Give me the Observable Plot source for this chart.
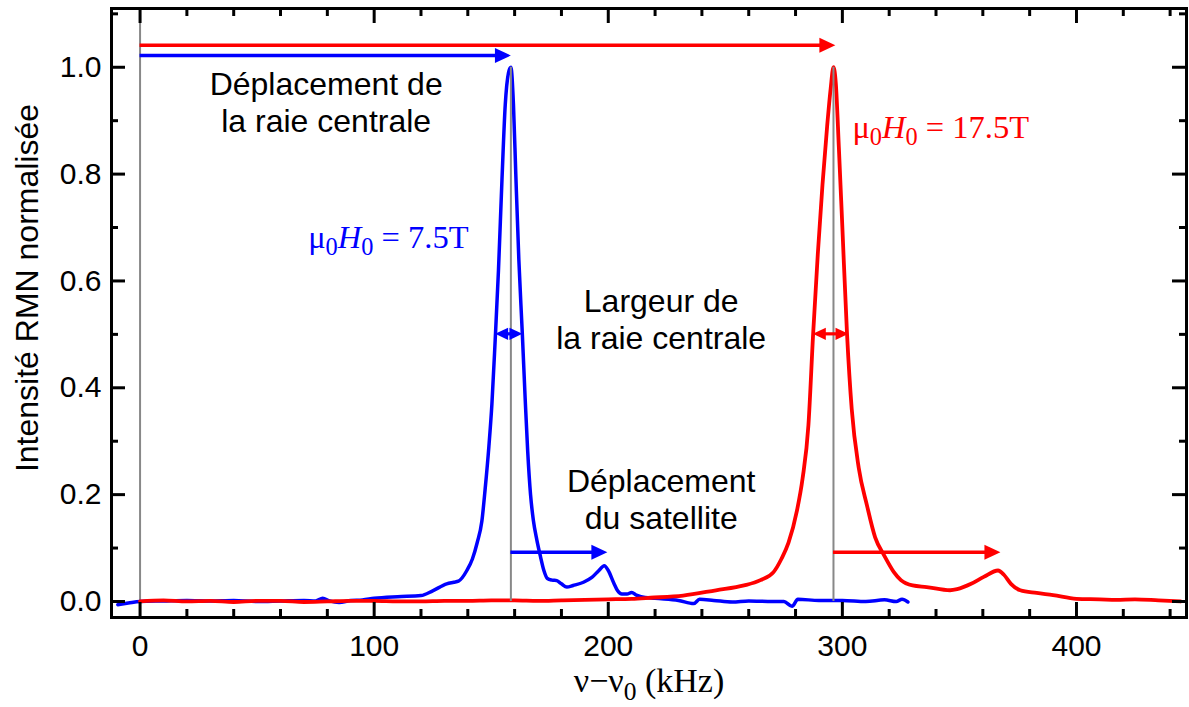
<!DOCTYPE html>
<html><head><meta charset="utf-8">
<script src="https://cdn.jsdelivr.net/npm/d3@7"></script>
<script src="https://cdn.jsdelivr.net/npm/@observablehq/plot@0.6"></script>
<style>body{margin:0;background:#fff}</style>
</head><body><div id="chart"></div>
<script>
// ---- data ----
const blueX = [-9.5,-5,0,10,20,30,40,50,60,70,75,78,81,85,90,95,100,110,120,125,131,134,136,139.6,142,144,146,147.4,149,150.3,151.7,153.1,154.6,156,157.4,158.4,159.5,160.5,161.8,163.3,164.5,165.6,166.8,168,169.5,171,172.5,174,176,178,180,182.3,185,189.4,193,196,198.3,200,202.3,204,205.8,208,210,212,214,220,230,236.5,239,245,253,260,270,275,278.5,281,290,300,310,318,323,325.5,328];
const blueY = [-0.006,-0.003,0,0.001,0.002,0.001,0.002,0.0,0.001,0.002,0.001,0.006,0.001,-0.002,0.002,0.003,0.006,0.009,0.011,0.02,0.033,0.036,0.038,0.058,0.08,0.11,0.15,0.21,0.29,0.37,0.49,0.62,0.79,0.93,0.99,1.0,0.93,0.8,0.64,0.5,0.38,0.28,0.2,0.152,0.115,0.085,0.058,0.043,0.04,0.039,0.033,0.027,0.03,0.036,0.045,0.058,0.067,0.058,0.035,0.02,0.014,0.014,0.017,0.012,0.009,0.006,0.002,-0.004,0.004,0.002,-0.001,0.001,0.0,0.0,-0.009,0.004,0.002,0.002,0.0,0.003,0.0,0.004,-0.001];
const redX = [0,10,20,30,40,50,60,70,80,90,100,110,120,130,140,150,160,170,180,190,200,210,218,232,246,258,265,270.6,274,277,280.6,283,285.5,287.5,289.5,291.5,293.5,295,296.2,297.2,298.5,300,302,304,307,310.5,314,318,322,325,330,336,346,349,355,360.4,366.5,369,372,376,383,390,400,410,417,425,435,444.5];
const redY = [0,0.002,0.0,0.001,-0.001,0.001,0.001,-0.001,0.0,0.001,0.001,0.0,0.0,0.001,0.001,0.002,0.002,0.001,0.002,0.003,0.004,0.005,0.007,0.011,0.021,0.03,0.04,0.055,0.08,0.11,0.17,0.23,0.33,0.5,0.65,0.78,0.89,0.96,1.0,0.97,0.85,0.7,0.5,0.36,0.25,0.18,0.12,0.085,0.055,0.04,0.03,0.027,0.021,0.023,0.033,0.046,0.058,0.05,0.033,0.021,0.016,0.012,0.005,0.004,0.003,0.004,0.002,0.0];

const xMajorTicks = [0,100,200,300,400];
const xMinorTicks = [20,40,60,80,120,140,160,180,220,240,260,280,320,340,360,380,420,440];
const yMajorTicks = [0,0.2,0.4,0.6,0.8,1.0];
const yMinorTicks = [0.1,0.3,0.5,0.7,0.9,1.1];

const peakPositions = [158.4, 296.2];
const seriesColors = ["#0000ff", "#ff0000"];
// arrows: start, end, level
const shiftStart = [0, 0], shiftEnd = [158.4, 297], shiftLevel = [1.022, 1.041];
const satStart = [158.4, 296.2], satEnd = [199.6, 367.5], satLevel = [0.092, 0.092];
const widthLeft = [151.7, 287.4], widthRight = [163.3, 302.6], widthLevel = [0.501, 0.501];

const fieldLabels = ["μ0H0 = 7.5T", "μ0H0 = 17.5T"];
const fieldLabelX = [71.8, 304.3], fieldLabelY = [0.682, 0.888];
const noteTexts = ["Déplacement de\nla raie centrale", "Largeur de\nla raie centrale", "Déplacement\ndu satellite"];
const noteX = [79.5, 222.6, 222.6], noteY = [0.935, 0.529, 0.192];
const xLabel = "ν−ν0 (kHz)";
const yLabel = "Intensité RMN normalisée";

// ---- tables ----
const blue = blueX.map((x, i) => ({x, y: blueY[i]}));
const red = redX.map((x, i) => ({x, y: redY[i]}));
const peaks = peakPositions.map(x => ({x, y1: 0, y2: 1}));
const mk = (a, b, c) => a.map((v, i) => ({x1: v, x2: b[i], y: c[i], c: seriesColors[i]}));
const shifts = mk(shiftStart, shiftEnd, shiftLevel);
const sats = mk(satStart, satEnd, satLevel);
const widths = mk(widthLeft, widthRight, widthLevel);
const fields = fieldLabels.map((t, i) => ({t, x: fieldLabelX[i], y: fieldLabelY[i], c: seriesColors[i]}));
const notes = noteTexts.map((t, i) => ({t, x: noteX[i], y: noteY[i]}));

// arrowhead symbol, tip at origin, pointing right
const head = {draw(ctx, size) { const L = Math.sqrt(size); ctx.moveTo(0, 0); ctx.lineTo(-L, -0.47 * L); ctx.lineTo(-L, 0.47 * L); ctx.closePath(); }};

const H = 707, W = 1189, mt = 8, mb = 90, ml = 111, mr = 3;
const innerH = H - mt - mb, innerW = W - ml - mr;
const sans = "'Liberation Sans', Arial, Helvetica, sans-serif";
const serif = "'Liberation Serif', 'Times New Roman', serif";

const plot = Plot.plot({
  width: W, height: H, marginTop: mt, marginBottom: mb, marginLeft: ml, marginRight: mr,
  x: {domain: [-12.2, 447]},
  y: {domain: [-0.03, 1.11]},
  style: {fontFamily: sans, background: "#fff", overflow: "visible"},
  marks: [
    Plot.ruleX([0], {stroke: "#888", strokeWidth: 2}),
    Plot.line(blue, {x: "x", y: "y", stroke: seriesColors[0], strokeWidth: 3.5, curve: "monotone-x"}),
    Plot.line(red, {x: "x", y: "y", stroke: seriesColors[1], strokeWidth: 3.8, curve: "monotone-x"}),
    Plot.ruleX(peaks, {x: "x", y1: "y1", y2: "y2", stroke: "#888", strokeWidth: 2}),
    // shift arrows
    Plot.ruleY(shifts, {y: "y", x1: "x1", x2: "x2", stroke: "c", strokeWidth: 3.5, insetRight: 8}),
    Plot.dot(shifts, {x: "x2", y: "y", fill: "c", symbol: head, r: 9, stroke: null}),
    Plot.ruleY(sats, {y: "y", x1: "x1", x2: "x2", stroke: "c", strokeWidth: 3.5, insetRight: 8}),
    Plot.dot(sats, {x: "x2", y: "y", fill: "c", symbol: head, r: 9, stroke: null}),
    // width arrows
    Plot.ruleY(widths, {y: "y", x1: "x1", x2: "x2", stroke: "c", strokeWidth: 3.2, insetLeft: 6, insetRight: 6}),
    Plot.dot(widths, {x: "x2", y: "y", fill: "c", symbol: head, r: 7.3, stroke: null}),
    Plot.dot(widths, {x: "x1", y: "y", fill: "c", symbol: head, r: 7.3, rotate: 180, stroke: null}),
    // texts
    Plot.text(notes, {x: "x", y: "y", text: "t", fontSize: 32, lineHeight: 1.16, fill: "#000"}),
    Plot.text(fields, {x: "x", y: "y", text: "t", fill: "c", fontSize: 32.5, textAnchor: "start", fontFamily: serif}),
    Plot.text([xLabel], {frameAnchor: "bottom", textAnchor: "middle", dy: 74, fontSize: 34, fontFamily: serif}),
    Plot.text([yLabel], {frameAnchor: "left", textAnchor: "middle", dx: -84, dy: -25, rotate: -90, fontSize: 32}),
    // ticks (inward, all four sides)
    Plot.ruleX(xMajorTicks, {stroke: "#000", strokeWidth: 3, insetTop: innerH - 15}),
    Plot.ruleX(xMajorTicks, {stroke: "#000", strokeWidth: 3, insetBottom: innerH - 15}),
    Plot.ruleX(xMinorTicks, {stroke: "#000", strokeWidth: 3, insetTop: innerH - 8}),
    Plot.ruleX(xMinorTicks, {stroke: "#000", strokeWidth: 3, insetBottom: innerH - 8}),
    Plot.ruleY(yMajorTicks, {stroke: "#000", strokeWidth: 3, insetRight: innerW - 14}),
    Plot.ruleY(yMajorTicks, {stroke: "#000", strokeWidth: 3, insetLeft: innerW - 14}),
    Plot.ruleY(yMinorTicks, {stroke: "#000", strokeWidth: 3, insetRight: innerW - 7}),
    Plot.ruleY(yMinorTicks, {stroke: "#000", strokeWidth: 3, insetLeft: innerW - 7}),
    Plot.axisX({ticks: xMajorTicks, tickSize: 0, tickPadding: 17, fontSize: 30, label: null, tickFormat: d => String(d)}),
    Plot.axisY({ticks: yMajorTicks, tickSize: 0, tickPadding: 10, fontSize: 30, label: null, tickFormat: d3.format(".1f")}),
    Plot.frame({stroke: "#000", strokeWidth: 3})
  ]
});

// rich text: subscripts and italic H
function rich(el, parts) {
  el.textContent = "";
  for (const p of parts) {
    const ts = document.createElementNS("http://www.w3.org/2000/svg", "tspan");
    ts.textContent = p.t;
    if (p.sub) ts.setAttribute("font-size", "75%");
    if (p.dy) ts.setAttribute("dy", p.dy);
    if (p.it) ts.setAttribute("font-style", "italic");
    el.appendChild(ts);
  }
}
d3.select(plot).selectAll("text").each(function() {
  const t = this.textContent;
  if (t === "μ0H0 = 7.5T" || t === "μ0H0 = 17.5T") {
    rich(this, [{t: "μ"}, {t: "0", sub: true, dy: 7}, {t: "H", it: true, dy: -7}, {t: "0", sub: true, dy: 7}, {t: t.slice(4), dy: -7}]);
  } else if (t === xLabel) {
    rich(this, [{t: "ν−ν"}, {t: "0", sub: true, dy: 8}, {t: " (kHz)", dy: -8}]);
  }
});
document.getElementById("chart").appendChild(plot);
</script>
</body></html>
